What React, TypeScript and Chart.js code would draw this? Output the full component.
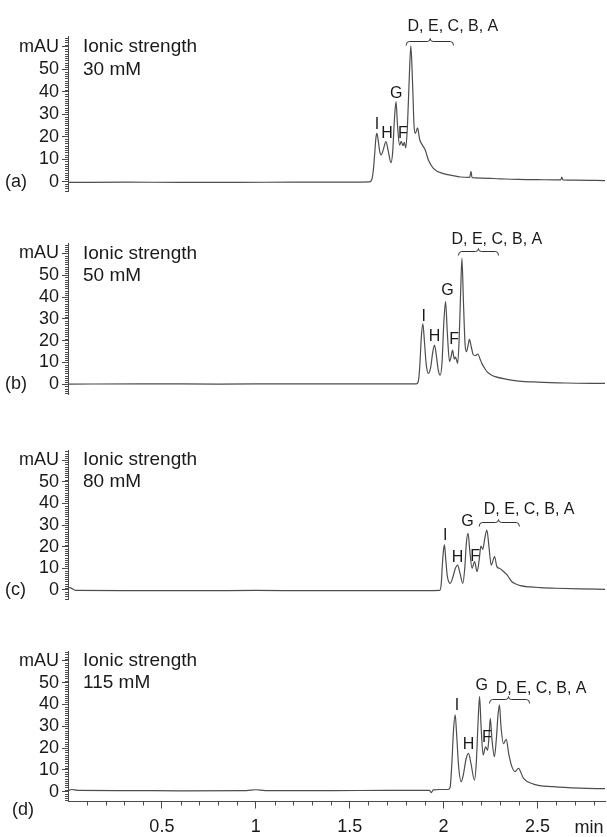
import React, { useEffect, useRef } from 'react';
import { Chart, registerables } from 'chart.js';

Chart.register(...registerables);

// ---------- data (minutes, mAU) ----------
const timeA = [0, 0.3, 0.6, 0.9, 1.2, 1.5, 1.605, 1.618, 1.626, 1.633, 1.64, 1.645, 1.652, 1.66, 1.668, 1.68, 1.693, 1.706, 1.72, 1.729, 1.738, 1.747, 1.755, 1.766, 1.775, 1.784, 1.791, 1.799, 1.808, 1.817, 1.826, 1.835, 1.843, 1.85, 1.862, 1.872, 1.888, 1.903, 1.92, 1.947, 2.0, 2.05, 2.09, 2.14, 2.146, 2.152, 2.2, 2.3, 2.4, 2.5, 2.6, 2.624, 2.63, 2.636, 2.7, 2.86];
const mauA = [-0.3, -0.2, -0.3, -0.3, -0.2, -0.2, -0.1, 1.0, 5, 12, 19.5, 21.5, 18.5, 13.5, 11.9, 14.5, 17.8, 13.5, 8.5, 13, 27, 35.6, 25, 16.3, 17.9, 16.0, 17.5, 15.0, 25, 45, 60.4, 44, 25, 21.5, 24, 19.1, 16.2, 14, 9.5, 5.8, 3.6, 2.7, 2.1, 1.9, 4.6, 1.8, 1.6, 1.3, 1.0, 0.9, 0.8, 0.8, 2.0, 0.8, 0.7, 0.5];

const timeB = [0, 0.4, 0.8, 1.2, 1.6, 1.855, 1.866, 1.874, 1.882, 1.89, 1.898, 1.908, 1.92, 1.932, 1.943, 1.952, 1.962, 1.972, 1.982, 1.992, 2.002, 2.011, 2.02, 2.032, 2.04, 2.048, 2.053, 2.058, 2.064, 2.075, 2.083, 2.091, 2.098, 2.106, 2.115, 2.122, 2.13, 2.138, 2.148, 2.159, 2.171, 2.183, 2.195, 2.204, 2.218, 2.231, 2.255, 2.275, 2.337, 2.4, 2.5, 2.65, 2.86];
const mauB = [0.1, 0.2, 0.1, 0.2, 0.2, 0.2, 1.5, 9, 22, 27.7, 20, 9, 5.0, 8, 15, 18.0, 13, 6.5, 4.2, 10, 29, 37.9, 24, 10.4, 12.5, 15.7, 13.5, 11.5, 12.5, 9.6, 20, 42, 57.8, 38, 18, 15, 17.5, 20.6, 17, 13.5, 13.2, 13.9, 11.5, 9.6, 7.5, 5.8, 4.3, 3.5, 2.3, 1.5, 1.0, 0.6, 0.4];

const timeC = [0, 0.015, 0.04, 0.3, 0.7, 1.0, 1.3, 1.6, 1.9, 1.98, 1.988, 1.994, 2.0, 2.005, 2.012, 2.02, 2.036, 2.05, 2.063, 2.075, 2.087, 2.103, 2.113, 2.122, 2.131, 2.14, 2.152, 2.165, 2.179, 2.19, 2.199, 2.209, 2.22, 2.231, 2.242, 2.254, 2.272, 2.284, 2.298, 2.311, 2.334, 2.35, 2.364, 2.385, 2.409, 2.46, 2.515, 2.6, 2.728, 2.86];
const mauC = [1.2, 1.0, -0.2, -0.3, -0.3, -0.2, -0.3, -0.3, -0.3, -0.2, 3, 12, 18.5, 20.8, 14, 6.5, 3.1, 6, 10, 11.5, 8, 3.1, 10, 22, 26.2, 18, 10.0, 13.1, 8.5, 14, 20.3, 18.8, 24, 27.7, 20, 11.5, 15.4, 10.8, 10, 9.2, 7.4, 5.5, 3.8, 2.8, 2.0, 1.4, 1.1, 0.8, 0.5, 0.3];

const timeD = [0, 0.02, 0.05, 0.3, 0.6, 0.95, 1.0, 1.05, 1.4, 1.7, 1.925, 1.935, 1.945, 1.98, 2.025, 2.035, 2.045, 2.053, 2.062, 2.07, 2.08, 2.094, 2.106, 2.12, 2.133, 2.146, 2.165, 2.175, 2.184, 2.192, 2.2, 2.211, 2.224, 2.235, 2.242, 2.249, 2.258, 2.271, 2.282, 2.29, 2.298, 2.306, 2.319, 2.334, 2.348, 2.364, 2.381, 2.399, 2.426, 2.479, 2.585, 2.727, 2.86];
const mauD = [0.5, 1.0, 0.6, 0.5, 0.4, 0.5, 0.9, 0.5, 0.5, 0.6, 0.6, -0.4, 0.8, 1.0, 1.0, 2, 14, 28, 35.2, 26, 12, 4.6, 8, 15, 17.6, 13, 5.3, 14, 32, 43.6, 30, 16.8, 20.6, 19, 25, 33.7, 24, 16, 25, 35, 39.8, 30, 22, 24, 17, 11.5, 9.2, 10.7, 6.1, 3.5, 2.3, 1.6, 1.4];

// ---------- labels ----------
const ionicStrengths = ['30 mM', '50 mM', '80 mM', '115 mM'];
const panelLetters = ['(a)', '(b)', '(c)', '(d)'];
const peakNames = ['I', 'H', 'G', 'F'];
const groupName = 'D, E, C, B, A';
// peak label anchors [time, mAU]
const peakLabelsA = [[1.646, 25.2], [1.699, 21.5], [1.748, 39.3], [1.784, 21.5]];
const peakLabelsB = [[1.894, 31.0], [1.952, 21.8], [2.021, 42.8], [2.057, 20.3]];
const peakLabelsC = [[2.009, 24.9], [2.075, 15.1], [2.128, 31.5], [2.169, 15.4]];
const peakLabelsD = [[2.071, 39.3], [2.133, 21.4], [2.204, 48.5], [2.231, 25.0]];
// group label anchor [time, mAU]
const groupLabelA = [2.05, 69];
const groupLabelB = [2.284, 66.5];
const groupLabelC = [2.456, 37.3];
const groupLabelD = [2.52, 47.4];
// brace [start, middle, end, level]
const braceA = [1.801, 1.929, 2.053, 62.7];
const braceB = [2.08, 2.186, 2.293, 61.3];
const braceC = [2.19, 2.293, 2.404, 31.5];
const braceD = [2.245, 2.346, 2.458, 42.5];

// axis ranges / ticks
const tMin = 0;
const tMax = 2.86;
const yMin = -4.5;
const yMax = 64.5;
const yStep = 10;
const xStep = 0.5;
const xMinorStep = 0.1;
const yMinorStep = 1;
const unitTick = 60; // tick shown as the unit label
const xUnit = 'min';
const yUnit = 'mAU';

// ---------- styles ----------
const FONT = '"Liberation Sans", Arial, Helvetica, sans-serif';
const AXIS_COLOR = '#4a4a4a';
const LINE_COLOR = '#4d4d4d';
const TEXT_COLOR = '#1a1a1a';

type PanelSpec = {
  times: number[];
  values: number[];
  ionic: string;
  letter: string;
  peaks: number[][];
  group: number[];
  brace: number[];
  top: number;
  height: number;
  zero: number;
  k: number;
  showX: boolean;
};

const panels: PanelSpec[] = [
  { times: timeA, values: mauA, ionic: ionicStrengths[0], letter: panelLetters[0], peaks: peakLabelsA, group: groupLabelA, brace: braceA, top: 0, height: 215, zero: 181.7, k: 2.248, showX: false },
  { times: timeB, values: mauB, ionic: ionicStrengths[1], letter: panelLetters[1], peaks: peakLabelsB, group: groupLabelB, brace: braceB, top: 195, height: 225, zero: 384.3, k: 2.18, showX: false },
  { times: timeC, values: mauC, ionic: ionicStrengths[2], letter: panelLetters[2], peaks: peakLabelsC, group: groupLabelC, brace: braceC, top: 400, height: 225, zero: 590, k: 2.166, showX: false },
  { times: timeD, values: mauD, ionic: ionicStrengths[3], letter: panelLetters[3], peaks: peakLabelsD, group: groupLabelD, brace: braceD, top: 600, height: 237, zero: 791.7, k: 2.18, showX: true },
];

function makeAnnotPlugin(panel: PanelSpec) {
  return {
    id: 'annot',
    afterDraw(chart: any) {
      const { ctx, chartArea } = chart;
      const xs = chart.scales.x;
      const ys = chart.scales.y;
      ctx.save();
      // minor y ticks
      ctx.strokeStyle = AXIS_COLOR;
      ctx.lineWidth = 1;
      ctx.beginPath();
      for (let v = Math.ceil(yMin); v <= yMax; v += yMinorStep) {
        if (v % yStep === 0 && v >= 0 && v <= unitTick) continue;
        const py = Math.round(ys.getPixelForValue(v)) + 0.5;
        ctx.moveTo(chartArea.left - 3, py);
        ctx.lineTo(chartArea.left, py);
      }
      ctx.stroke();
      // minor x ticks
      if (panel.showX) {
        ctx.beginPath();
        for (let i = 1; i * xMinorStep <= tMax; i++) {
          if (i % Math.round(xStep / xMinorStep) === 0) continue;
          const px = Math.round(xs.getPixelForValue(i * xMinorStep)) + 0.5;
          ctx.moveTo(px, chartArea.bottom);
          ctx.lineTo(px, chartArea.bottom + 4);
        }
        ctx.stroke();
      }
      ctx.fillStyle = TEXT_COLOR;
      // ionic strength text
      ctx.font = `19px ${FONT}`;
      ctx.textAlign = 'left';
      ctx.textBaseline = 'middle';
      ctx.fillText('Ionic strength', chartArea.left + 15, ys.getPixelForValue(60));
      ctx.fillText(panel.ionic, chartArea.left + 15, ys.getPixelForValue(50));
      // panel letter
      ctx.font = `18px ${FONT}`;
      const zeroPx = ys.getPixelForValue(0);
      if (panel.showX) ctx.fillText(panel.letter, 12, zeroPx + 18);
      else ctx.fillText(panel.letter, 5, zeroPx);
      // x unit
      if (panel.showX) {
        ctx.textAlign = 'center';
        ctx.fillText(xUnit, xs.getPixelForValue(2.775), chartArea.bottom + 27);
      }
      // peak labels
      ctx.font = `16px ${FONT}`;
      ctx.textAlign = 'center';
      panel.peaks.forEach((p, i) => {
        ctx.fillText(peakNames[i], xs.getPixelForValue(p[0]), ys.getPixelForValue(p[1]));
      });
      ctx.fillText(groupName, xs.getPixelForValue(panel.group[0]), ys.getPixelForValue(panel.group[1]));
      // brace
      const x0 = xs.getPixelForValue(panel.brace[0]);
      const xm = xs.getPixelForValue(panel.brace[1]);
      const x1 = xs.getPixelForValue(panel.brace[2]);
      const by = Math.round(ys.getPixelForValue(panel.brace[3])) + 0.5;
      ctx.strokeStyle = '#333';
      ctx.lineWidth = 1;
      ctx.beginPath();
      ctx.moveTo(x0, by + 4);
      ctx.quadraticCurveTo(x0, by, x0 + 3, by);
      ctx.lineTo(xm - 3, by);
      ctx.quadraticCurveTo(xm, by, xm, by - 3);
      ctx.quadraticCurveTo(xm, by, xm + 3, by);
      ctx.lineTo(x1 - 3, by);
      ctx.quadraticCurveTo(x1, by, x1, by + 4);
      ctx.stroke();
      ctx.restore();
    },
  };
}

function ChromPanel({ panel }: { panel: PanelSpec }) {
  const ref = useRef<HTMLCanvasElement>(null);
  useEffect(() => {
    const canvas = ref.current;
    if (!canvas) return;
    const areaTop = panel.zero - yMax * panel.k;
    const areaBottom = panel.zero - yMin * panel.k;
    const bottomSpace = panel.top + panel.height - areaBottom;
    const xScale: any = {
      type: 'linear',
      min: tMin,
      max: tMax,
      display: panel.showX,
      border: { display: true, color: AXIS_COLOR, width: 1 },
      grid: {
        drawOnChartArea: false,
        drawTicks: true,
        tickLength: 7,
        color: AXIS_COLOR,
        tickColor: (c: any) => (c.tick && c.tick.value === 0 ? 'rgba(0,0,0,0)' : AXIS_COLOR),
      },
      ticks: {
        stepSize: xStep,
        includeBounds: false,
        autoSkip: false,
        maxRotation: 0,
        padding: 8,
        color: TEXT_COLOR,
        font: { size: 18, family: FONT },
        callback: (v: any) => (Number(v) === 0 ? '' : String(Math.round(Number(v) * 10) / 10)),
      },
    };
    if (panel.showX) {
      xScale.afterFit = (s: any) => {
        s.height = bottomSpace;
      };
    }
    const chart = new Chart(canvas, {
      type: 'line',
      data: {
        datasets: [
          {
            data: panel.times.map((t, i) => ({ x: t, y: panel.values[i] })),
            borderColor: LINE_COLOR,
            borderWidth: 1.2,
            pointRadius: 0,
            cubicInterpolationMode: 'monotone',
            fill: false,
          },
        ],
      },
      options: {
        responsive: false,
        animation: false,
        events: [],
        layout: {
          padding: {
            top: areaTop - panel.top,
            bottom: panel.showX ? 0 : bottomSpace,
            left: 0,
            right: 2,
          },
        },
        plugins: { legend: { display: false }, tooltip: { enabled: false } },
        scales: {
          x: xScale,
          y: {
            type: 'linear',
            min: yMin,
            max: yMax,
            afterFit: (s: any) => {
              s.width = 68;
            },
            border: { display: true, color: AXIS_COLOR, width: 1 },
            grid: { drawOnChartArea: false, drawTicks: true, tickLength: 6, color: AXIS_COLOR },
            ticks: {
              stepSize: yStep,
              includeBounds: false,
              autoSkip: false,
              padding: 3,
              color: TEXT_COLOR,
              font: { size: 18, family: FONT },
              callback: (v: any) => (Number(v) === unitTick ? yUnit : String(v)),
            },
          },
        },
      } as any,
      plugins: [makeAnnotPlugin(panel)],
    });
    return () => chart.destroy();
  }, [panel]);
  return (
    <canvas
      ref={ref}
      width={607}
      height={panel.height}
      style={{ position: 'absolute', left: 0, top: panel.top, width: 607, height: panel.height }}
    />
  );
}

export default function App() {
  return (
    <div style={{ position: 'absolute', left: 0, top: 0, width: 607, height: 837, background: '#fff' }}>
      {panels.map((p, i) => (
        <ChromPanel key={i} panel={p} />
      ))}
    </div>
  );
}
